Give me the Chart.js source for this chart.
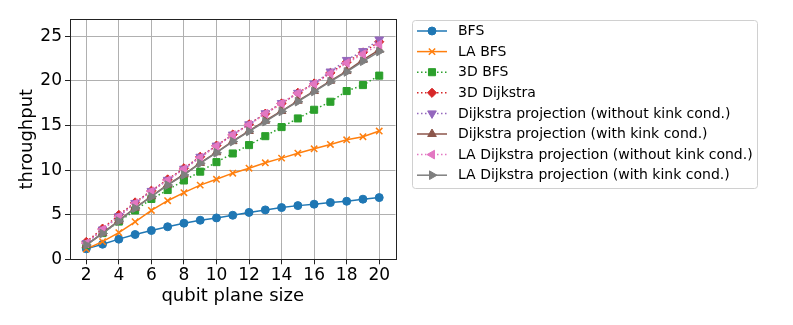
<!DOCTYPE html>
<html>
<head>
<meta charset="utf-8">
<script src="https://cdn.jsdelivr.net/npm/chart.js@4"></script>
<style>
html,body{margin:0;padding:0;background:#fff;}
#wrap{width:793px;height:325px;position:relative;}
</style>
</head>
<body>
<div id="wrap"><canvas id="c" width="793" height="325"></canvas></div>
<script>
const planeSizes = [2,3,4,5,6,7,8,9,10,11,12,13,14,15,16,17,18,19,20];
const xTicks = [2,4,6,8,10,12,14,16,18,20];
const yTicks = [0,5,10,15,20,25];

const bfs = [1.17,1.69,2.26,2.78,3.23,3.65,4.05,4.38,4.64,4.94,5.26,5.54,5.80,6.02,6.18,6.36,6.51,6.74,6.92];
const laBfs = [1.15,1.98,2.99,4.21,5.48,6.57,7.47,8.32,8.97,9.66,10.22,10.82,11.35,11.90,12.39,12.88,13.40,13.75,14.38];
const bfs3d = [1.6,2.94,4.23,5.48,6.77,7.77,8.84,9.83,10.90,11.87,12.81,13.81,14.83,15.80,16.77,17.67,18.87,19.54,20.60];
const dijkstra3d = [1.95,3.44,4.98,6.38,7.69,8.96,10.21,11.50,12.75,13.99,15.14,16.33,17.48,18.67,19.72,20.91,22.11,23.20,24.40];
const projNoKink = [1.8,3.34,4.83,6.32,7.67,8.91,10.16,11.50,12.75,13.99,15.14,16.38,17.53,18.67,19.72,21.06,22.36,23.35,24.65];
const projKink = [1.6,2.94,4.33,5.78,7.07,8.37,9.51,10.81,12.00,13.25,14.39,15.54,16.63,17.78,18.87,20.02,21.11,22.36,23.50];
const laProjNoKink = [1.8,3.34,4.78,6.27,7.62,8.86,10.11,11.40,12.70,13.94,15.09,16.33,17.48,18.62,19.67,20.82,22.01,23.00,24.10];
const laProjKink = [1.6,2.89,4.28,5.73,7.02,8.32,9.46,10.76,11.95,13.20,14.34,15.44,16.58,17.68,18.82,19.92,21.01,22.21,23.30];

const seriesNames = ['BFS','LA BFS','3D BFS','3D Dijkstra','Dijkstra projection (without kink cond.)','Dijkstra projection (with kink cond.)','LA Dijkstra projection (without kink cond.)','LA Dijkstra projection (with kink cond.)'];
const seriesValues = [bfs, laBfs, bfs3d, dijkstra3d, projNoKink, projKink, laProjNoKink, laProjKink];
const colors = ['#1f77b4','#ff7f0e','#2ca02c','#d62728','#9467bd','#8c564b','#e377c2','#7f7f7f'];
const dotted = [false,false,true,true,true,false,true,false];
const markers = [
  {style:'circle', r:4, rot:0},
  {style:'crossRot', r:4.5, rot:0},
  {style:'rect', r:5, rot:0},
  {style:'rectRot', r:4.6, rot:0},
  {style:'triangle', r:5, rot:180},
  {style:'triangle', r:5, rot:0},
  {style:'triangle', r:5, rot:-90},
  {style:'triangle', r:5, rot:90}
];

const N = seriesNames.length;
const datasets = seriesNames.map((name,i)=>({
  label: name,
  data: planeSizes.map((x,j)=>({x:x, y:seriesValues[i][j]})),
  borderColor: colors[i],
  backgroundColor: colors[i],
  borderWidth: 1.5,
  borderDash: dotted[i] ? [1.5,2.5] : [],
  pointStyle: markers[i].style,
  pointRadius: markers[i].r,
  pointRotation: markers[i].rot,
  pointBorderWidth: markers[i].style==='crossRot' ? 1.5 : 1,
  pointBorderColor: colors[i],
  pointBackgroundColor: colors[i],
  tension: 0,
  order: N - i
}));

const frame = {
  id:'frame',
  afterDatasetsDraw(chart){
    const a = chart.chartArea, ctx = chart.ctx;
    ctx.save();
    ctx.strokeStyle = '#222';
    ctx.lineWidth = 1;
    ctx.strokeRect(Math.round(a.left)+0.5, Math.round(a.top)+0.5, Math.round(a.right-a.left), Math.round(a.bottom-a.top));
    ctx.restore();
  }
};

const legendPlugin = {
  id:'mplLegend',
  afterDraw(chart){
    const ctx = chart.ctx;
    const bx = 412.5, by = 20.5, bw = 345, bh = 168;
    ctx.save();
    ctx.fillStyle = 'rgba(255,255,255,0.8)';
    ctx.strokeStyle = '#d0d0d0';
    ctx.lineWidth = 1;
    const r = 3;
    ctx.beginPath();
    ctx.moveTo(bx+r,by); ctx.lineTo(bx+bw-r,by); ctx.quadraticCurveTo(bx+bw,by,bx+bw,by+r);
    ctx.lineTo(bx+bw,by+bh-r); ctx.quadraticCurveTo(bx+bw,by+bh,bx+bw-r,by+bh);
    ctx.lineTo(bx+r,by+bh); ctx.quadraticCurveTo(bx,by+bh,bx,by+bh-r);
    ctx.lineTo(bx,by+r); ctx.quadraticCurveTo(bx,by,bx+r,by);
    ctx.closePath(); ctx.fill(); ctx.stroke();
    chart.data.datasets.forEach((ds,i)=>{
      const y = 31 + i*20.6;
      ctx.strokeStyle = ds.borderColor;
      ctx.lineWidth = 1.5;
      ctx.setLineDash(ds.borderDash);
      ctx.beginPath(); ctx.moveTo(417,y); ctx.lineTo(447,y); ctx.stroke();
      ctx.setLineDash([]);
      ctx.fillStyle = ds.borderColor; ctx.strokeStyle = ds.borderColor;
      ctx.lineWidth = ds.pointBorderWidth;
      Chart.helpers.drawPoint(ctx, {
        pointStyle: ds.pointStyle, radius: ds.pointRadius, rotation: ds.pointRotation,
        borderWidth: ds.pointBorderWidth
      }, 432, y);
      ctx.fillStyle = '#000';
      ctx.font = '14px "DejaVu Sans"';
      ctx.textBaseline = 'middle';
      ctx.textAlign = 'left';
      ctx.fillText(ds.label, 458, y+0.5);
    });
    ctx.restore();
  }
};

new Chart(document.getElementById('c'), {
  type:'line',
  data:{datasets},
  plugins:[frame, legendPlugin],
  options:{
    responsive:false,
    animation:false,
    devicePixelRatio:1,
    layout:{padding:{top:19, right:397.5, left:0, bottom:0}},
    plugins:{legend:{display:false}, tooltip:{enabled:false}},
    scales:{
      x:{
        type:'linear', min:1, max:21,
        afterBuildTicks(s){ s.ticks = xTicks.map(v=>({value:v})); },
        afterFit(s){ s.height = 325 - 259.3; },
        grid:{color:'#b0b0b0', lineWidth:1, tickLength:5, tickColor:'#222', drawOnChartArea:true},
        border:{display:false},
        ticks:{color:'#000', font:{family:'DejaVu Sans', size:17}, padding:1, maxRotation:0, autoSkip:false},
        title:{display:true, text:'qubit plane size', color:'#000', font:{family:'DejaVu Sans', size:18}, padding:{top:0, bottom:18}}
      },
      y:{
        type:'linear', min:0, max:26.95,
        afterBuildTicks(s){ s.ticks = yTicks.map(v=>({value:v})); },
        afterFit(s){ s.width = 70; },
        grid:{color:'#b0b0b0', lineWidth:1, tickLength:5, tickColor:'#222'},
        border:{display:false},
        ticks:{color:'#000', font:{family:'DejaVu Sans', size:17}, padding:3},
        title:{display:true, text:'throughput', color:'#000', font:{family:'DejaVu Sans', size:18}, padding:{top:17,bottom:0}}
      }
    }
  }
});
</script>
</body>
</html>
